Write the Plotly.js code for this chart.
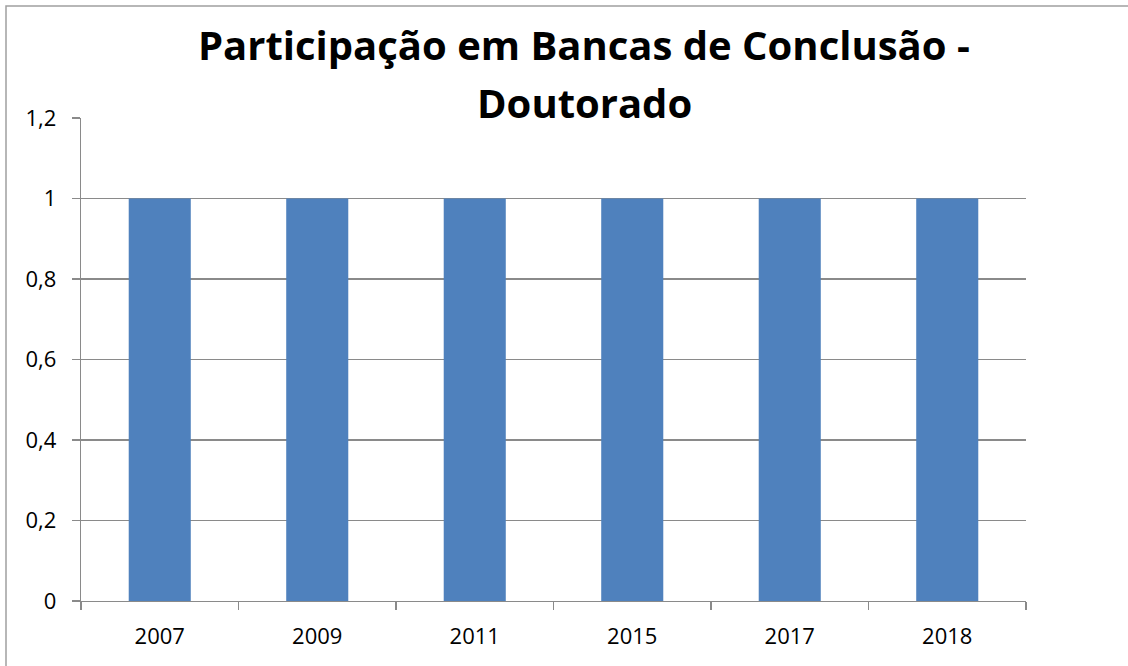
<!DOCTYPE html>
<html><head><meta charset="utf-8">
<script src="https://cdn.plot.ly/plotly-3.0.1.min.js"></script>
<style>html,body{margin:0;padding:0;background:#fff;}#chart{width:1128px;height:666px;}</style>
</head><body><div id="chart"></div>
<script>
const titleLines = ["Participação em Bancas de Conclusão -", "Doutorado"];
const years = ["2007", "2009", "2011", "2015", "2017", "2018"];
const values = [1, 1, 1, 1, 1, 1];
const yTicks = [0, 0.2, 0.4, 0.6, 0.8, 1, 1.2];

const L = 81, R = 1026, T = 118, B = 601, W = 1128, H = 666;
const pw = R - L, ph = B - T;
const gridColor = "#8a8a8a";
const titleCenterPx = [45, 102];

Plotly.newPlot("chart", [{
  type: "bar", x: years, y: values,
  marker: {color: "#4f81bd"}, hoverinfo: "x+y"
}], {
  width: W, height: H,
  margin: {l: L, r: W - R, t: T, b: H - B, pad: 0},
  paper_bgcolor: "#fff", plot_bgcolor: "#fff",
  separators: ",.",
  bargap: 0.606,
  showlegend: false,
  font: {family: "Open Sans, sans-serif", color: "#000"},
  annotations: titleLines.map((t, i) => ({
    text: "<b>" + t + "</b>", showarrow: false,
    xref: "paper", yref: "paper",
    x: (584 - L) / pw, xanchor: "center",
    y: (B - titleCenterPx[i]) / ph, yanchor: "middle",
    font: {family: "Open Sans, sans-serif", size: 40, color: "#000"}
  })),
  xaxis: {
    type: "category", tickson: "boundaries", ticks: "outside", ticklen: 8,
    tickcolor: gridColor, tickwidth: 1.3,
    showline: true, linecolor: gridColor, linewidth: 1.3,
    showgrid: false, zeroline: false,
    tickfont: {size: 22, family: "Open Sans, sans-serif", color: "#000"},
    ticklabelstandoff: 15
  },
  yaxis: {
    range: [0, 1.2], tickvals: yTicks, ticks: "outside", ticklen: 8,
    tickcolor: gridColor, tickwidth: 1.3,
    showline: true, linecolor: gridColor, linewidth: 1.3,
    showgrid: true, gridcolor: gridColor, gridwidth: 1.3, zeroline: false,
    tickformat: ".1~f",
    tickfont: {size: 22, family: "Open Sans, sans-serif", color: "#000"},
    ticklabelstandoff: 11
  },
  shapes: [{
    type: "rect", xref: "paper", yref: "paper",
    x0: (6 - L) / pw, x1: (W + 20 - L) / pw,
    y0: (B - (H + 20)) / ph, y1: (B - 6) / ph,
    line: {color: "#a0a0a0", width: 1.5}, fillcolor: "rgba(0,0,0,0)", layer: "below"
  }]
}, {displayModeBar: false, staticPlot: true});
</script></body></html>
